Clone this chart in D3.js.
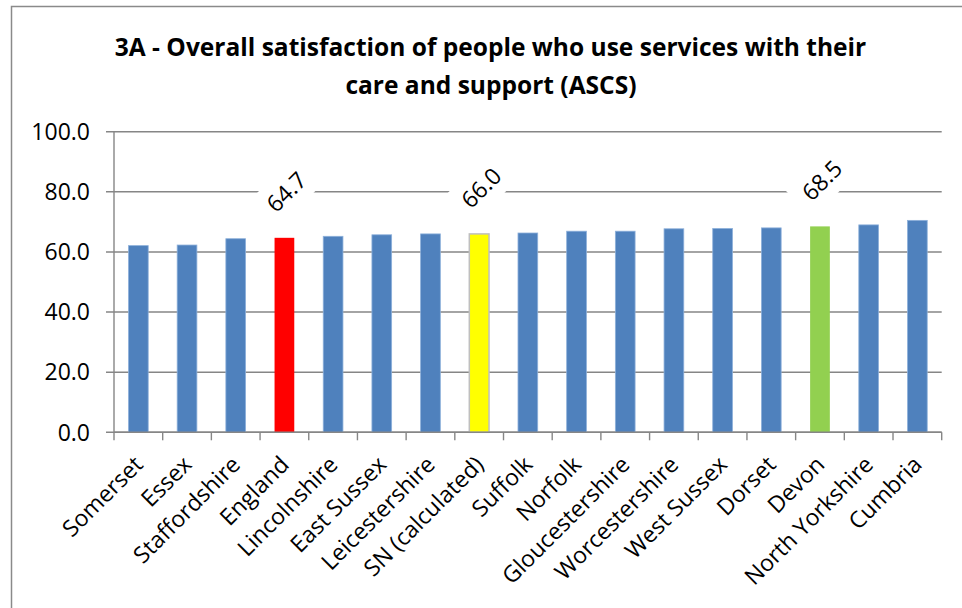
<!DOCTYPE html>
<html>
<head>
<meta charset="utf-8">
<script src="https://cdn.jsdelivr.net/npm/d3@7"></script>
<style>
  html, body { margin: 0; padding: 0; background: #fff; }
  svg { display: block; }
  text { font-family: "Open Sans", "Liberation Sans", sans-serif; fill: #000; }
</style>
</head>
<body>
<svg id="chart" width="962" height="608"></svg>
<script>
// ---- data ----
const titleLines = ["3A - Overall satisfaction of people who use services with their", "care and support (ASCS)"];
const categories = ["Somerset", "Essex", "Staffordshire", "England", "Lincolnshire", "East Sussex",
  "Leicestershire", "SN (calculated)", "Suffolk", "Norfolk", "Gloucestershire", "Worcestershire",
  "West Sussex", "Dorset", "Devon", "North Yorkshire", "Cumbria"];
const values = [62.1, 62.3, 64.4, 64.7, 65.2, 65.7, 66.0, 66.0, 66.3, 66.9, 66.9, 67.7, 67.8, 68.0, 68.5, 69.0, 70.5];
const labelledCategories = ["England", "SN (calculated)", "Devon"];
const highlightColors = { "England": "#FF0000", "SN (calculated)": "#FFFF00", "Devon": "#92D050" };
const yTicks = [0, 20, 40, 60, 80, 100];

// ---- layout ----
const svg = d3.select("#chart");
const plot = { left: 114, right: 941.7, top: 131.7, bottom: 432.3 };

// outer chart border
svg.append("rect")
  .attr("x", 11.5).attr("y", 6.5)
  .attr("width", 980).attr("height", 640)
  .attr("fill", "#fff").attr("stroke", "#8a8a8a").attr("stroke-width", 1.5);

// title
const titleG = svg.append("g");
const t1 = titleG.append("text").text(titleLines[0])
  .attr("x", 490.5).attr("y", 56).attr("text-anchor", "middle")
  .style("font-weight", "bold").style("font-size", "22px");
const w1 = t1.node().getComputedTextLength();
const titleSize = 22 * 752 / w1;
t1.style("font-size", titleSize + "px");
titleG.append("text").text(titleLines[1])
  .attr("x", 491).attr("y", 94).attr("text-anchor", "middle")
  .style("font-weight", "bold").style("font-size", titleSize + "px");

// scales
const x = d3.scaleBand().domain(categories).range([plot.left, plot.right]).paddingInner(0.595).paddingOuter(0.2975);
const y = d3.scaleLinear().domain([0, 100]).range([plot.bottom, plot.top]);

// gridlines
svg.append("g").selectAll("line").data(yTicks).join("line")
  .attr("x1", plot.left - 8).attr("x2", plot.right)
  .attr("y1", d => y(d)).attr("y2", d => y(d))
  .attr("stroke", "#868686").attr("stroke-width", 1.4);

// y axis labels
svg.append("g").selectAll("text").data(yTicks).join("text")
  .attr("x", 90).attr("y", d => y(d))
  .attr("dy", "0.36em").attr("text-anchor", "end")
  .style("font-size", "23px")
  .text(d => d3.format(".1f")(d));

// y axis line
svg.append("line")
  .attr("x1", plot.left).attr("x2", plot.left)
  .attr("y1", plot.top).attr("y2", plot.bottom)
  .attr("stroke", "#868686").attr("stroke-width", 1.4);

// bars
const blue = "#4F81BD";
svg.append("g").selectAll("rect").data(categories).join("rect")
  .attr("x", d => x(d)).attr("width", x.bandwidth())
  .attr("y", (d, i) => y(values[i]))
  .attr("height", (d, i) => y(0) - y(values[i]))
  .attr("fill", d => highlightColors[d] || blue)
  .attr("stroke", d => d === "SN (calculated)" ? "#BFBFBF" : (highlightColors[d] ? "none" : "#8DB0DA"))
  .attr("stroke-width", d => d === "SN (calculated)" ? 1.5 : 0.8);

// x axis line and ticks
svg.append("line")
  .attr("x1", plot.left).attr("x2", plot.right)
  .attr("y1", plot.bottom).attr("y2", plot.bottom)
  .attr("stroke", "#868686").attr("stroke-width", 1.4);
const step = x.step();
const boundaries = d3.range(categories.length + 1).map(i => plot.left + i * step);
svg.append("g").selectAll("line").data(boundaries).join("line")
  .attr("x1", d => d).attr("x2", d => d)
  .attr("y1", plot.bottom).attr("y2", plot.bottom + 8)
  .attr("stroke", "#868686").attr("stroke-width", 1.4);

// category labels
svg.append("g").selectAll("text").data(categories).join("text")
  .attr("transform", d => `translate(${x(d) + x.bandwidth() / 2 + 6},${466}) rotate(-45)`)
  .attr("text-anchor", "end")
  .style("font-size", "23px")
  .text(d => d);

// data labels (rotated, with white box)
const labG = svg.append("g");
labelledCategories.forEach(c => {
  const i = categories.indexOf(c);
  const cx = x(c) + x.bandwidth() / 2;
  const cy = y(values[i]) - 44;
  const g = labG.append("g").attr("transform", `translate(${cx + 2},${cy - 2}) rotate(-45)`);
  g.append("rect").attr("x", -33).attr("y", -20).attr("width", 66).attr("height", 40).attr("fill", "#fff");
  g.append("text").attr("text-anchor", "middle").attr("dy", "0.36em")
    .style("font-size", "23px")
    .text(d3.format(".1f")(values[i]));
});
</script>
</body>
</html>
